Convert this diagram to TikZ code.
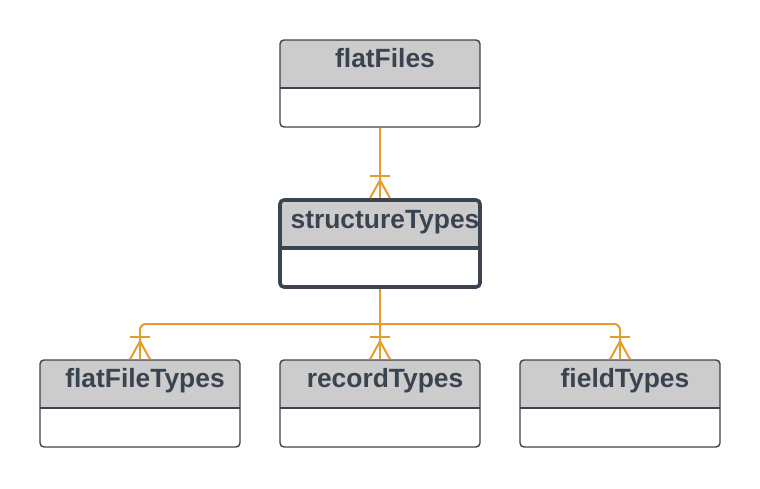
\documentclass[tikz,border=0pt]{standalone}
\usepackage{fontspec}
\setmainfont{Liberation Sans}
\usetikzlibrary{positioning}
\definecolor{boxline}{HTML}{3A4350}
\definecolor{headgray}{HTML}{CCCCCC}
\definecolor{titletext}{HTML}{3A4451}
\definecolor{linkcol}{HTML}{E89B2A}
\tikzset{
  divider/.style={line width=0.7pt},
  entity/.style={draw=boxline, line width=0.7pt, rounded corners=2pt,
    minimum width=100pt, minimum height=43.5pt, inner sep=0pt,
    path picture={
      \fill[headgray, sharp corners] (path picture bounding box.north west)
        rectangle ([yshift=-24pt]path picture bounding box.north east);
      \draw[boxline, divider, sharp corners] ([yshift=-24pt]path picture bounding box.north west)
        -- ([yshift=-24pt]path picture bounding box.north east);
    }},
  keyentity/.style={entity, line width=1.8pt, divider/.style={line width=1.8pt}},
  title/.style={font=\fontsize{13.2}{15}\selectfont\bfseries, text=titletext, inner sep=0pt, anchor=base},
  link/.style={draw=linkcol, line width=1pt},
  crowfoot/.pic={
    \draw[link] (-10,0) -- (0,-18) -- (10,0);
    \draw[link] (-10,-22) -- (10,-22);
  }
}
\begin{document}
\begin{tikzpicture}[x=0.5pt, y=-0.5pt]
\useasboundingbox (0,0) rectangle (760,488);
% Entities
\node[entity] (ff) at (380,83.5) {};
\node[keyentity] (st) at (380,243.5) {};
\node[entity] (fft) at (140,403.5) {};
\node[entity] (rt) at (380,403.5) {};
\node[entity] (ftp) at (620,403.5) {};
% Entity titles
\node[title] (ff-t) at ([xshift=2.5pt, yshift=-14pt]ff.north) {flatFiles};
\node[title] (st-t) at ([xshift=2.5pt, yshift=-15pt]st.north) {structureTypes};
\node[title] (fft-t) at ([xshift=2.5pt, yshift=-14pt]fft.north) {flatFileTypes};
\node[title] (rt-t) at ([xshift=2.5pt, yshift=-14pt]rt.north) {recordTypes};
\node[title] (ftp-t) at ([xshift=2.5pt, yshift=-14pt]ftp.north) {fieldTypes};
% Relation flatFiles - structureTypes
\draw[link] (ff.south) -- (st.north);
\pic at (st.north) {crowfoot};
% Relations from structureTypes down
\coordinate (jn) at (380,324);
\draw[link] (st.south) -- (rt.north);
\draw[link, rounded corners=3pt] (jn) -| (fft.north);
\draw[link, rounded corners=3pt] (jn) -| (ftp.north);
\pic at (fft.north) {crowfoot};
\pic at (rt.north) {crowfoot};
\pic at (ftp.north) {crowfoot};
\end{tikzpicture}
\end{document}
